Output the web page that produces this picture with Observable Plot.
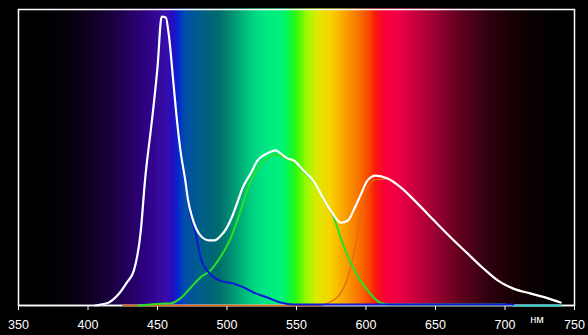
<!DOCTYPE html>
<html>
<head>
<meta charset="utf-8">
<script src="https://cdn.jsdelivr.net/npm/d3@7"></script>
<script src="https://cdn.jsdelivr.net/npm/@observablehq/plot@0.6"></script>
<style>
  html, body { margin: 0; padding: 0; background: #000; }
  #chart { width: 588px; height: 335px; overflow: hidden; }
</style>
</head>
<body>
<div id="chart"></div>
<script>
// Spectrum background stops (wavelength, colour)
const specNm = [350, 380, 400, 420, 440, 455, 462, 466, 470, 480, 495, 505, 515, 525, 540, 546, 550, 558, 565, 575, 585, 595, 603, 608, 615, 625, 640, 655, 670, 690, 710, 730, 750];
const specColor = ["#000000", "#050008", "#100020", "#200045", "#300080", "#3a10a8", "#2a10c8", "#0030d0", "#0050b0", "#006090", "#007070", "#009878", "#00c880", "#00e888", "#00f880", "#10ff40", "#30ff10", "#a0ff00", "#e0f000", "#ffd800", "#ffa800", "#ff7800", "#ff4800", "#ff1818", "#ff0040", "#f00048", "#c00040", "#900030", "#600020", "#300010", "#150005", "#050002", "#000000"];

// Total (white) spectrum
const totalNm = [405, 409, 415, 419, 423, 428, 433, 438, 441, 446, 450, 453, 456, 458, 461.5, 464, 466.5, 470, 472, 475, 481, 487, 491, 495, 500, 504, 508, 511, 517, 522, 529, 535, 538.5, 543.5, 548, 555, 562, 569, 576, 582, 587, 591, 596, 601, 607, 615.5, 625, 637, 649, 661, 673, 684.5, 695, 706, 718, 731, 740];
const totalVal = [0, 0.3, 1.0, 2.4, 4.4, 7.8, 11.8, 25.3, 42.2, 62.5, 80.4, 97.6, 97.3, 91.9, 75, 62.5, 52.4, 42.2, 35.5, 29.7, 23.6, 22, 22, 23.3, 26.4, 30.4, 35.5, 39.5, 44.6, 49, 51.4, 52.4, 51.4, 49.7, 49, 45.6, 42.2, 36.5, 31.1, 28, 28.7, 32.1, 37.2, 42.2, 43.9, 42.9, 39.9, 34.5, 28.7, 23, 17.6, 12.5, 8.4, 5.7, 4.1, 2.4, 1.0];

// Blue component
const blueNm = [405, 409, 415, 419, 423, 428, 433, 438, 441, 446, 450, 453, 456, 458, 461.5, 464, 470, 473.5, 477, 481, 487, 495, 505, 512, 519, 529, 538.5, 548, 600, 650, 706];
const blueVal = [0, 0.3, 1.0, 2.4, 4.4, 7.8, 11.8, 25.3, 42.2, 62.5, 80.4, 97.6, 97.3, 91.9, 75, 62.5, 41, 31, 25.3, 16.2, 11.1, 8.4, 7.4, 6.1, 4.4, 2.7, 1.0, 0.3, 0.3, 0.3, 0.3];

// Green component
const greenNm = [436, 445, 456, 459, 466.5, 474, 481, 488, 495, 502.5, 508, 515, 522, 527.7, 535, 540.6, 548, 555, 562, 569, 576, 583, 589, 596, 603, 610, 617.6, 700];
const greenVal = [0, 0.3, 0.7, 0.7, 2.4, 6.1, 9.5, 11.8, 16.2, 22.6, 29.5, 39.5, 46.3, 49.3, 51, 50, 48.6, 45.3, 41.9, 36.5, 30.7, 21.3, 14.5, 8.4, 4.1, 1.0, 0.3, 0.3];

// Red component
const redNm = [425, 567, 572, 581.7, 589, 594, 598, 603, 608, 612.6, 615.5, 625, 637, 649, 661, 673, 684.5, 695, 706, 718, 731, 740];
const redVal = [0, 0, 0.7, 4.1, 12.8, 24.3, 35.5, 41.2, 42.6, 42.6, 42.9, 39.9, 34.5, 28.7, 23, 17.6, 12.5, 8.4, 5.7, 4.1, 2.4, 1.0];

// Cyan baseline segment
const cyanNm = [706, 740];
const cyanVal = [0, 0];

// Axis ticks and unit label
const xTicks = [350, 400, 450, 500, 550, 600, 650, 700, 750];
const unitLabel = "нм";
const unitNm = 723;

const toRows = (nm, val) => nm.map((x, i) => ({x, y: val[i]}));
const spectrum = d3.scaleLinear().domain(specNm).range(specColor).interpolate(d3.interpolateRgb).clamp(true);
const bins = d3.range(350, 750, 0.5);

const chart = Plot.plot({
  width: 588,
  height: 335,
  marginLeft: 18,
  marginRight: 14,
  marginTop: 9,
  marginBottom: 30,
  style: {background: "#000", color: "#fff", fontFamily: "'Liberation Sans', Arial, sans-serif"},
  x: {domain: [350, 750]},
  y: {domain: [0, 100], axis: null},
  marks: [
    Plot.rect(bins, {x1: d => d, x2: d => d + 0.5, y1: 0, y2: 100, fill: d => spectrum(d + 0.25), stroke: d => spectrum(d + 0.25), strokeWidth: 0.6, inset: 0}),
    Plot.frame({stroke: "#fff", strokeWidth: 1.5}),
    Plot.axisX({ticks: xTicks, tickSize: 5, tickPadding: 10, stroke: "#fff", fill: "#fff", fontSize: 12.5, label: null}),
    Plot.ruleY([0], {stroke: "#fff", strokeWidth: 1.5}),
    Plot.line(toRows(redNm, redVal), {x: "x", y: "y", stroke: "#e06a18", strokeWidth: 1.3, curve: "monotone-x"}),
    Plot.line(toRows(greenNm, greenVal), {x: "x", y: "y", stroke: "#28e028", strokeWidth: 2, curve: "monotone-x"}),
    Plot.line(toRows(cyanNm, cyanVal), {x: "x", y: "y", stroke: "#40d0d0", strokeWidth: 2}),
    Plot.line(toRows(blueNm, blueVal), {x: "x", y: "y", stroke: "#0c18d8", strokeWidth: 2, curve: "monotone-x"}),
    Plot.line(toRows(totalNm, totalVal), {x: "x", y: "y", stroke: "#ffffff", strokeWidth: 2.2, curve: "monotone-x"}),
    Plot.text([unitLabel], {x: unitNm, y: 0, text: d => d, dy: 14, fill: "#fff", fontSize: 11, textAnchor: "middle"})
  ]
});
document.getElementById("chart").appendChild(chart);
</script>
</body>
</html>
